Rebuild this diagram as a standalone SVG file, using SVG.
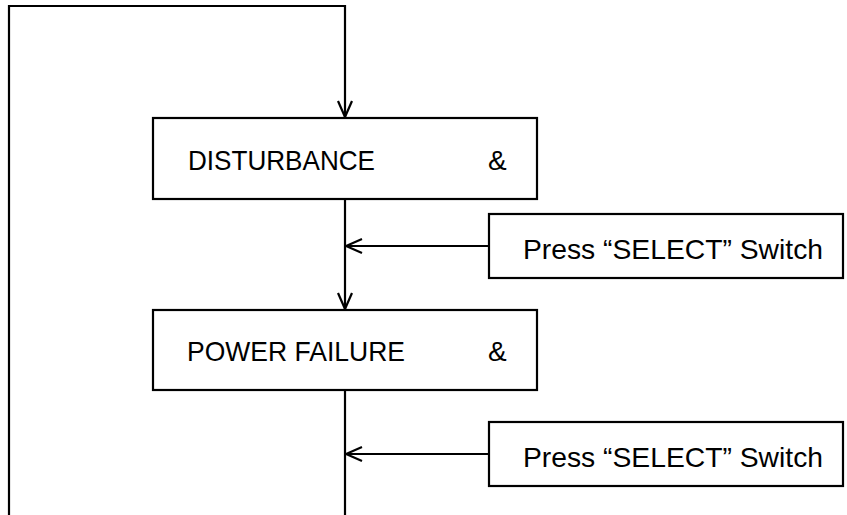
<svg xmlns="http://www.w3.org/2000/svg" width="847" height="515" viewBox="0 0 847 515">
<style>
.box{fill:#fff;stroke:#000;stroke-width:2.2}
.ln{fill:none;stroke:#000;stroke-width:2.2}
.t{font-family:"Liberation Sans",Arial,sans-serif;font-size:28px;fill:#000}
</style>
<defs>
<marker id="arr" viewBox="-18 -9 20 18" refX="0" refY="0" markerWidth="20" markerHeight="18" markerUnits="userSpaceOnUse" orient="auto">
<path d="M-16,-7 L0,0 L-16,7" fill="none" stroke="#000" stroke-width="2.2"/>
</marker>
</defs>
<rect width="847" height="515" fill="#fff"/>
<g id="connectors">
<polyline class="ln" points="9,515 9,6 345,6 345,117" marker-end="url(#arr)"/>
<line class="ln" x1="345" y1="199" x2="345" y2="309" marker-end="url(#arr)"/>
<line class="ln" x1="489" y1="246" x2="346" y2="246" marker-end="url(#arr)"/>
<line class="ln" x1="345" y1="390" x2="345" y2="515"/>
<line class="ln" x1="489" y1="454" x2="346" y2="454" marker-end="url(#arr)"/>
</g>
<g id="disturbance">
<rect class="box" x="153" y="118" width="384" height="81"/>
<text class="t" x="188" y="170" textLength="187" lengthAdjust="spacingAndGlyphs">DISTURBANCE</text>
<text class="t" x="488" y="170">&amp;</text>
</g>
<g id="power-failure">
<rect class="box" x="153" y="310" width="384" height="80"/>
<text class="t" x="187" y="361" textLength="218" lengthAdjust="spacingAndGlyphs">POWER FAILURE</text>
<text class="t" x="488" y="361">&amp;</text>
</g>
<g id="select1">
<rect class="box" x="489" y="214" width="354" height="64"/>
<text class="t" x="523" y="259" textLength="300" lengthAdjust="spacingAndGlyphs">Press “SELECT” Switch</text>
</g>
<g id="select2">
<rect class="box" x="489" y="422" width="354" height="64"/>
<text class="t" x="523" y="467" textLength="300" lengthAdjust="spacingAndGlyphs">Press “SELECT” Switch</text>
</g>
</svg>
